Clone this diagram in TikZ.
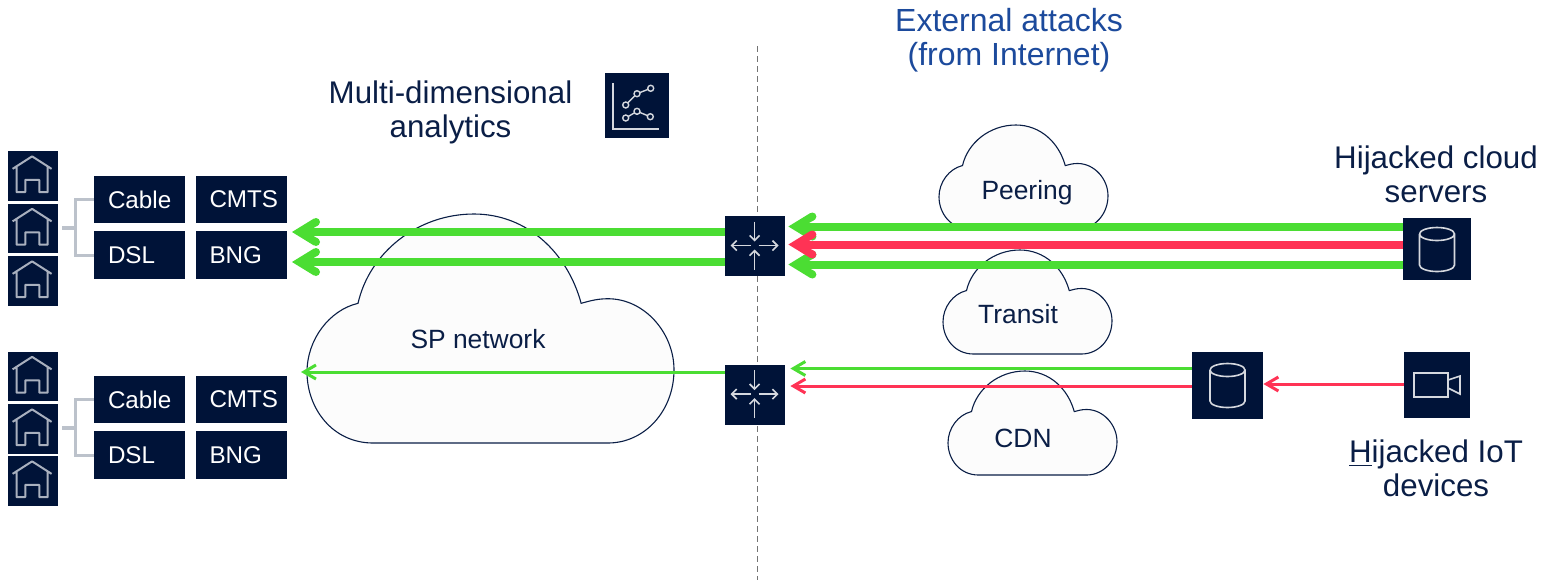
\documentclass[tikz,border=0pt]{standalone}
\usepackage{fontspec}
\setmainfont{Liberation Sans}
\usetikzlibrary{arrows.meta}
\definecolor{navy}{HTML}{001338}
\definecolor{inktext}{HTML}{0A1E46}
\definecolor{blueink}{HTML}{1C4A9C}
\definecolor{gattack}{HTML}{4BDD33}
\definecolor{rattack}{HTML}{FF3355}
\definecolor{iconline}{HTML}{D5D8DE}
\definecolor{houseline}{HTML}{A9B0BE}
\definecolor{treeline}{HTML}{BCC2CB}
\pgfdeclarearrow{
  name=Chevron,
  setup code={\pgfarrowssettipend{0pt}\pgfarrowssetlineend{-6pt}\pgfarrowssetvisualbackend{-14pt}\pgfarrowssetbackend{-14pt}},
  drawing code={
    \pgfpathmoveto{\pgfpoint{0pt}{0pt}}
    \pgfpathlineto{\pgfpoint{-10.9pt}{6.7pt}}
    \pgfpathlineto{\pgfpoint{-13.1pt}{3.3pt}}
    \pgfpathlineto{\pgfpoint{-7pt}{0pt}}
    \pgfpathlineto{\pgfpoint{-13.1pt}{-3.3pt}}
    \pgfpathlineto{\pgfpoint{-10.9pt}{-6.7pt}}
    \pgfpathclose
    \pgfpathcircle{\pgfpoint{-12pt}{5pt}}{2pt}
    \pgfpathcircle{\pgfpoint{-12pt}{-5pt}}{2pt}
    \pgfusepathqfill
  },
}
\tikzset{
  navybox/.style={fill=navy,draw=none,inner sep=0pt,minimum width=#1},
  labelbox/.style={navybox=45.5pt,minimum height=23.75pt,text=white,font=\fontsize{12.1}{14}\selectfont,align=left,text width=31.5pt,inner xsep=7pt},
  housebox/.style={navybox=25pt,minimum height=24.75pt},
  routerbox/.style={navybox=30pt,minimum height=30pt},
  cloudtext/.style={text=inktext,font=\fontsize{13.2}{15}\selectfont},
  bigtext/.style={text=inktext,font=\fontsize{15.65}{17}\selectfont,align=center},
  exttext/.style={text=blueink,font=\fontsize{16}{17}\selectfont,align=center},
  thickgreen/.style={draw=gattack,line width=4pt,-{Chevron}},
  thickred/.style={draw=rattack,line width=4pt,-{Chevron}},
  thingreen/.style={draw=gattack,line width=1.5pt,-{Straight Barb[length=6pt,width=7pt]}},
  thinred/.style={draw=rattack,line width=1.5pt,-{Straight Barb[length=6pt,width=7pt]}},
  cloudpic/.pic={
    \draw[draw=inktext,fill=white!99!black,line width=0.55pt]
      (0.18,1) .. controls (0.07,1) and (0,0.85) .. (0,0.69)
      .. controls (0,0.55) and (0.06,0.42) .. (0.139,0.39)
      .. controls (0.17,0.17) and (0.3,0) .. (0.455,0)
      .. controls (0.6,0) and (0.71,0.17) .. (0.747,0.39)
      .. controls (0.77,0.38) and (0.79,0.37) .. (0.82,0.37)
      .. controls (0.92,0.37) and (1,0.52) .. (1,0.68)
      .. controls (1,0.86) and (0.92,1) .. (0.82,1) -- cycle;
  },
  housepic/.pic={
    \draw[houseline,line width=1pt,line join=round]
      (5,18) -- (24.5,5.5) -- (44,18)
      (9,15.5) -- (9,41.3) -- (17.7,41.3) -- (17.7,29) -- (31.7,29) -- (31.7,41.3) -- (40,41.3) -- (40,15.5);
  },
  routerpic/.pic={
    \begin{scope}[iconline,line width=0.8pt,-{Straight Barb[length=2.5pt,width=5pt]}]
      \draw (30,6) -- (30,26);
      \draw (30,54) -- (30,34);
      \draw (26,30) -- (6,30);
      \draw (34,30) -- (54,30);
    \end{scope}
  },
  cylpic/.pic={
    \draw[iconline,line width=0.8pt] (-17.5,0) arc[start angle=180,end angle=540,x radius=17.5,y radius=6.5]
      (-17.5,0) -- (-17.5,31) arc[start angle=180,end angle=0,x radius=17.5,y radius=6.5] -- (17.5,0);
  },
}
\begin{document}
\begin{tikzpicture}[x=0.5pt,y=-0.5pt]
\useasboundingbox (0,0) rectangle (1552,580);
% divider
\coordinate (divtop) at (757,46);
\coordinate (divbot) at (757,580);
\draw[draw=black!55,line width=0.5pt,dash pattern=on 3pt off 2pt] (divtop) -- (divbot);
% clouds
\pic[xscale=367,yscale=229] at (307,214) {cloudpic};
\pic[xscale=169,yscale=104] at (939,125) {cloudpic};
\pic[xscale=169,yscale=104] at (943,250) {cloudpic};
\pic[xscale=169,yscale=104] at (948,371) {cloudpic};
\node[cloudtext] (spn) at (478,339) {SP network};
\node[cloudtext] (peer) at (1027,192.5) {Peering};
\node[cloudtext] (tran) at (1018,314) {Transit};
\node[cloudtext] (cdn) at (1023,438) {CDN};
% titles
\node[bigtext] (multi) at (450.5,112) {Multi-dimensional\\analytics};
\node[exttext] (ext) at (1009,40) {External attacks\\(from Internet)};
\node[bigtext] (hcs) at (1436,174.5) {Hijacked cloud\\servers};
\node[bigtext] (hiot) at (1436,468) {\underline{H}ijacked IoT\\devices};
% access boxes, upper
\node[labelbox] (cab1) at (139.5,199.5) {\raisebox{-0.5pt}{Cable}};
\node[labelbox] (dsl1) at (139.5,255) {\raisebox{-0.5pt}{DSL}};
\node[labelbox] (cmts1) at (241,199.5) {\raisebox{-0.5pt}{CMTS}};
\node[labelbox] (bng1) at (241,255) {\raisebox{-0.5pt}{BNG}};
% access boxes, lower
\node[labelbox] (cab2) at (139.5,399.5) {\raisebox{-0.5pt}{Cable}};
\node[labelbox] (dsl2) at (139.5,455) {\raisebox{-0.5pt}{DSL}};
\node[labelbox] (cmts2) at (241,399.5) {\raisebox{-0.5pt}{CMTS}};
\node[labelbox] (bng2) at (241,455) {\raisebox{-0.5pt}{BNG}};
% houses
\foreach \n/\yy in {h1/176,h2/228.5,h3/281,h4/376.5,h5/429,h6/481}{
  \node[housebox] (\n) at (33,\yy) {};
  \pic at (\n.north west) {housepic};
}
% trees
\foreach \a/\b/\c/\ym in {cab1/dsl1/t1/227.5,cab2/dsl2/t2/427.5}{
  \coordinate (\c) at (62,\ym);
  \coordinate (\c m) at (75,\ym);
  \draw[treeline,line width=1.5pt] (\a.west) -| (\c m) |- (\b.west);
  \draw[treeline,line width=2pt] (\c) -- (\c m);
}
% routers
\node[routerbox] (r1) at (755,246) {};
\node[routerbox] (r2) at (755,394.5) {};
\pic at (r1.north west) {routerpic};
\pic at (r2.north west) {routerpic};
% source icons
\node[navybox=34pt,minimum height=31pt] (db1) at (1437,249) {};
\pic at (1437,234) {cylpic};
\node[navybox=35.5pt,minimum height=33.5pt] (db2) at (1227.5,385.5) {};
\pic at (1227.5,370) {cylpic};
\node[navybox=33pt,minimum height=33pt] (cam) at (1437,385) {};
\draw[iconline,line width=0.8pt] (1414,373) rectangle (1448,397)
  (1448,380) -- (1460,376) -- (1460,394) -- (1448,388);
% analytics icon
\node[navybox=32pt,minimum height=32.5pt] (ana) at (637,105.5) {};
\begin{scope}[iconline,line width=0.7pt]
  \draw (613,83) -- (613,129) -- (659,129);
  \draw (625.7,105) -- (637,93.7) -- (650.7,88.3);
  \draw (625.7,118) -- (637,111.3) -- (650.3,116.7);
  \foreach \px/\py in {625.7/105,637/93.7,650.7/88.3,625.7/118,637/111.3,650.3/116.7}
    \draw[fill=navy] (\px,\py) circle[radius=3];
\end{scope}
% connector ends
\coordinate (tipa) at (292,232);
\coordinate (tipb) at (292,262);
\coordinate (tipc) at (301,372);
% connectors
\draw[thickgreen] ([yshift=7pt]r1.west) -- (tipa);
\draw[thickgreen] ([yshift=-8pt]r1.west) -- (tipb);
\draw[thingreen] ([yshift=11.25pt]r2.west) -- (tipc);
\draw[thickgreen] ([yshift=11.25pt]db1.west) -- ([xshift=1.5pt,yshift=9.75pt]r1.east);
\draw[thickgreen] ([yshift=-7.75pt]db1.west) -- ([xshift=1.5pt,yshift=-9.25pt]r1.east);
\draw[thickred] ([yshift=2.25pt]db1.west) -- ([xshift=1.5pt,yshift=0.75pt]r1.east);
\draw[thingreen] ([yshift=8.5pt]db2.west) -- ([xshift=2.5pt,yshift=13pt]r2.east);
\draw[thinred] ([yshift=-0.25pt]db2.west) -- ([xshift=2.5pt,yshift=4.25pt]r2.east);
\draw[thinred] ([yshift=0.5pt]cam.west) -- ([yshift=0.75pt]db2.east);
\end{tikzpicture}
\end{document}
